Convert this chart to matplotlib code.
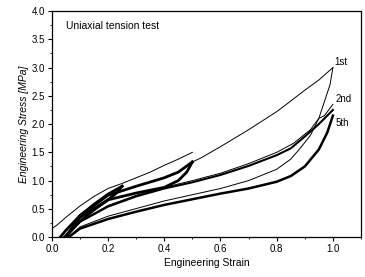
import numpy as np
import matplotlib
matplotlib.use("Agg")
import matplotlib.pyplot as plt
from matplotlib.ticker import MultipleLocator

plt.rcParams['font.family'] = ['Liberation Sans', 'DejaVu Sans']

# ---------------- data ----------------
# first loading up to 0.5 strain
virgin_strain = [0.0, 0.02, 0.05, 0.10, 0.15, 0.20, 0.25, 0.30, 0.35, 0.40, 0.45, 0.50]
virgin_stress = [0.15, 0.22, 0.35, 0.55, 0.72, 0.86, 0.95, 1.05, 1.15, 1.27, 1.38, 1.50]

# first loading from 0.5 up to 1.0 strain
load1_strain = [0.50, 0.53, 0.60, 0.70, 0.80, 0.84, 0.90, 0.95, 1.00]
load1_stress = [1.33, 1.40, 1.60, 1.90, 2.22, 2.37, 2.60, 2.78, 3.00]

# first unloading from 1.0 strain
unload1_strain = [1.00, 0.99, 0.97, 0.96, 0.95, 0.92, 0.88, 0.85, 0.80, 0.70, 0.60, 0.40, 0.20, 0.10, 0.06]
unload1_stress = [3.00, 2.70, 2.40, 2.25, 2.10, 1.80, 1.55, 1.38, 1.20, 1.00, 0.86, 0.64, 0.37, 0.18, 0.00]

# 2nd reloading (slightly above the rest near the peak)
reload2_strain = [0.05, 0.10, 0.20, 0.30, 0.40, 0.50, 0.60, 0.70, 0.80, 0.86, 0.92, 0.95, 0.97, 1.00]
reload2_stress = [0.00, 0.28, 0.56, 0.74, 0.88, 1.00, 1.13, 1.30, 1.50, 1.66, 1.90, 2.10, 2.15, 2.35]

# cycles to 0.25 strain
a_load_strain = [0.03, 0.05, 0.10, 0.15, 0.20, 0.25]
a_load_stress = [0.00, 0.12, 0.38, 0.58, 0.76, 0.90]
a_unload_strain = [0.25, 0.23, 0.20, 0.15, 0.10, 0.06, 0.045]
a_unload_stress = [0.90, 0.78, 0.66, 0.48, 0.28, 0.08, 0.00]

# cycles to 0.5 strain
b_load_strain = [0.05, 0.10, 0.20, 0.30, 0.40, 0.45, 0.50]
b_load_stress = [0.00, 0.38, 0.74, 0.90, 1.05, 1.15, 1.33]
b_unload_strain = [0.50, 0.48, 0.45, 0.40, 0.30, 0.20, 0.10, 0.05]
b_unload_stress = [1.33, 1.15, 1.00, 0.88, 0.78, 0.66, 0.35, 0.00]

# cycles to 1.0 strain (2nd..5th), reloading and unloading bands
c_load_strain = [0.05, 0.10, 0.20, 0.30, 0.40, 0.50, 0.60, 0.70, 0.80, 0.85, 0.90, 0.95, 1.00]
c_load_stress = [0.00, 0.27, 0.54, 0.72, 0.86, 0.97, 1.10, 1.26, 1.45, 1.57, 1.78, 2.00, 2.25]
c_unload_strain = [1.00, 0.98, 0.95, 0.90, 0.85, 0.80, 0.70, 0.60, 0.50, 0.40, 0.30, 0.20, 0.10, 0.06]
c_unload_stress = [2.15, 1.85, 1.55, 1.25, 1.08, 0.98, 0.86, 0.77, 0.67, 0.57, 0.45, 0.32, 0.15, 0.00]

cycle_labels = ["1st", "2nd", "5th"]
label_x = [1.005, 1.01, 1.01]
label_y = [3.10, 2.45, 2.02]

# ---------------- plot ----------------
fig = plt.figure(figsize=(3.65, 2.77), dpi=100)
ax = fig.add_axes([0.142, 0.144, 0.847, 0.816])

thin = dict(color="black", lw=0.7)
band = dict(color="black", lw=2.0)

ax.plot(virgin_strain, virgin_stress, **thin)
ax.plot(load1_strain, load1_stress, **thin)
ax.plot(unload1_strain, unload1_stress, **thin)
ax.plot(reload2_strain, reload2_stress, **thin)

ax.plot(a_load_strain, a_load_stress, **band)
ax.plot(a_unload_strain, a_unload_stress, **band)
ax.plot(b_load_strain, b_load_stress, **band)
ax.plot(b_unload_strain, b_unload_stress, **band)
ax.plot(c_load_strain, c_load_stress, color="black", lw=1.5)
ax.plot(c_unload_strain, c_unload_stress, color="black", lw=1.8)

for lab, lx, ly in zip(cycle_labels, label_x, label_y):
    ax.text(lx, ly, lab, fontsize=7, ha="left", va="center")

ax.text(0.05, 3.73, "Uniaxial tension test", fontsize=7.5, ha="left", va="center")

ax.set_xlim(0, 1.1)
ax.set_ylim(0, 4.0)
ax.xaxis.set_major_locator(MultipleLocator(0.2))
ax.xaxis.set_minor_locator(MultipleLocator(0.1))
ax.yaxis.set_major_locator(MultipleLocator(0.5))
ax.yaxis.set_minor_locator(MultipleLocator(0.25))
ax.tick_params(which="major", direction="out", length=3, width=0.8, labelsize=7, pad=2)
ax.tick_params(which="minor", direction="out", length=1.5, width=0.6)
ax.xaxis.set_major_formatter(plt.FuncFormatter(lambda v, p: f"{v:.1f}"))
ax.yaxis.set_major_formatter(plt.FuncFormatter(lambda v, p: f"{v:.1f}"))
for s in ax.spines.values():
    s.set_linewidth(0.9)

ax.set_xlabel("Engineering Strain", fontsize=7.5, labelpad=3)
ax.set_ylabel("Engineering Stress [MPa]", fontsize=7.5, style="italic", labelpad=2)

fig.savefig("out.png", dpi=100)
